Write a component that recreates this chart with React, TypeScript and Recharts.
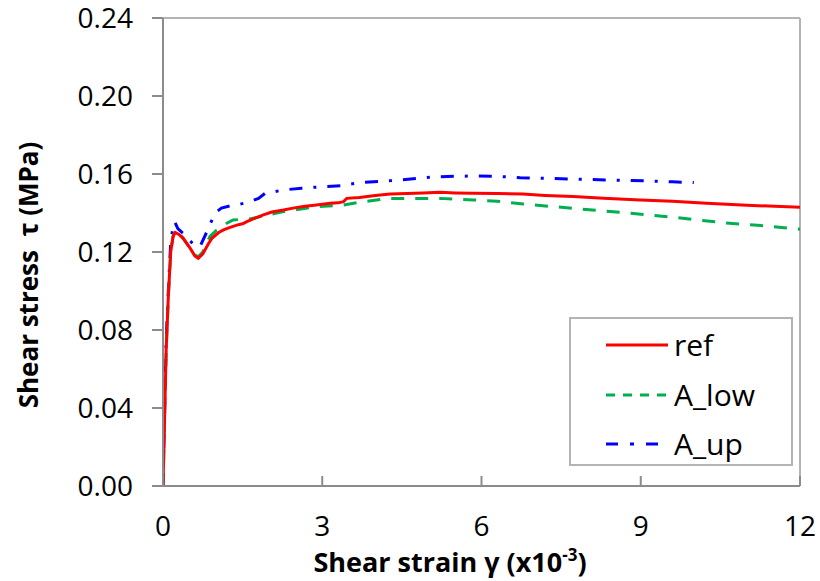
import React from 'react';
import { LineChart, Line, XAxis, YAxis, ReferenceLine, Legend } from 'recharts';

// ---- data ----
const refStrain = [0, 0.03, 0.06, 0.1, 0.145, 0.19, 0.23, 0.3, 0.38, 0.51, 0.6, 0.665, 0.75, 0.85, 0.92, 1.05, 1.14, 1.25, 1.39, 1.5, 1.58, 1.7, 1.89, 2.05, 2.27, 2.45, 2.64, 2.85, 3.0, 3.15, 3.3, 3.4, 3.46, 3.7, 4.0, 4.28, 4.6, 4.9, 5.22, 5.5, 5.84, 6.3, 6.78, 7.2, 7.73, 8.3, 8.99, 9.6, 10.24, 11.0, 12.0];
const refStress = [0, 0.035, 0.07, 0.097, 0.12, 0.128, 0.13, 0.129, 0.127, 0.122, 0.118, 0.1168, 0.119, 0.124, 0.127, 0.13, 0.1313, 0.1325, 0.1338, 0.1345, 0.1356, 0.137, 0.139, 0.1405, 0.1415, 0.1425, 0.1433, 0.144, 0.1445, 0.145, 0.1452, 0.1458, 0.1475, 0.148, 0.149, 0.1497, 0.15, 0.1503, 0.1506, 0.1503, 0.1501, 0.15, 0.1497, 0.149, 0.1484, 0.1476, 0.1467, 0.146, 0.145, 0.144, 0.1429];

const lowStrain = [0, 0.03, 0.06, 0.1, 0.145, 0.19, 0.23, 0.3, 0.38, 0.51, 0.6, 0.665, 0.75, 0.885, 1.0, 1.15, 1.32, 1.5, 1.64, 1.9, 2.27, 2.6, 2.9, 3.4, 3.77, 4.28, 4.8, 5.22, 5.85, 6.3, 6.79, 7.73, 8.67, 9.61, 10.56, 11.2, 11.81, 12.0];
const lowStress = [0, 0.035, 0.07, 0.097, 0.12, 0.128, 0.131, 0.13, 0.127, 0.122, 0.1185, 0.1175, 0.12, 0.128, 0.131, 0.134, 0.1364, 0.1368, 0.137, 0.1385, 0.1407, 0.142, 0.1433, 0.1441, 0.1458, 0.1475, 0.1475, 0.1475, 0.1467, 0.146, 0.1446, 0.1424, 0.1402, 0.1378, 0.135, 0.1337, 0.1321, 0.1317];

const upStrain = [0, 0.03, 0.06, 0.1, 0.145, 0.19, 0.22, 0.28, 0.38, 0.5, 0.62, 0.7, 0.82, 0.98, 1.1, 1.26, 1.45, 1.64, 1.8, 1.92, 2.26, 2.61, 3.01, 3.37, 3.71, 4.1, 4.47, 4.8, 5.16, 5.5, 5.91, 6.3, 6.73, 7.2, 7.67, 8.42, 9.17, 9.6, 10.0];
const upStress = [0, 0.04, 0.075, 0.1, 0.125, 0.133, 0.1355, 0.132, 0.1295, 0.126, 0.1227, 0.123, 0.13, 0.14, 0.1425, 0.1436, 0.1445, 0.1458, 0.1475, 0.15, 0.1518, 0.1527, 0.1535, 0.154, 0.1556, 0.1562, 0.1569, 0.1578, 0.1586, 0.1588, 0.159, 0.1588, 0.1581, 0.1578, 0.1574, 0.1569, 0.1564, 0.156, 0.1556];

const xTicks = [0, 3, 6, 9, 12];
const yTicks = [0, 0.04, 0.08, 0.12, 0.16, 0.2, 0.24];

const seriesNames = ['ref', 'A_low', 'A_up'];

const toPoints = (xs: number[], ys: number[]) => xs.map((x, i) => ({ x, y: ys[i] }));
const refData = toPoints(refStrain, refStress);
const lowData = toPoints(lowStrain, lowStress);
const upData = toPoints(upStrain, upStress);

const FONT = '"Open Sans", "Liberation Sans", sans-serif';
const RED = '#ff0000';
const GREEN = '#00b050';
const BLUE = '#0000ff';
const AXIS = '#8c8c8c';
const FRAME = '#b4b4b4';

const LegendBox = () => {
  const rows = [
    { name: seriesNames[0], color: RED, dash: undefined as string | undefined, len: 62 },
    { name: seriesNames[1], color: GREEN, dash: '9 8', len: 62 },
    { name: seriesNames[2], color: BLUE, dash: '12 12 4 12', len: 54 },
  ];
  return (
    <div
      style={{
        position: 'relative',
        width: 224,
        height: 149,
        boxSizing: 'border-box',
        border: `2px solid ${FRAME}`,
        background: '#fff',
        fontFamily: FONT,
      }}
    >
      {rows.map((r, i) => (
        <div key={r.name} style={{ position: 'absolute', left: 33, top: 6 + i * 49.5, height: 40, display: 'flex', alignItems: 'center' }}>
          <svg width={66} height={10} style={{ display: 'block' }}>
            <line x1={2} y1={5} x2={2 + r.len} y2={5} stroke={r.color} strokeWidth={3} strokeDasharray={r.dash} />
          </svg>
          <span style={{ fontSize: 30, lineHeight: '40px', color: '#000', marginLeft: 4 }}>{r.name}</span>
        </div>
      ))}
    </div>
  );
};

const XTitle = () => (
  <text x={450} y={572} textAnchor="middle" fontFamily={FONT} fontWeight={700} fontSize={27} fill="#000">
    Shear strain γ (x10
    <tspan fontSize={17} dy={-11}>-3</tspan>
    <tspan dy={11}>)</tspan>
  </text>
);

const YTitle = () => (
  <text
    x={38}
    y={275}
    transform="rotate(-90 38 275)"
    textAnchor="middle"
    fontFamily={FONT}
    fontWeight={700}
    fontSize={26}
    fill="#000"
    style={{ whiteSpace: 'pre' }}
  >
    {'Shear stress  τ (MPa)'}
  </text>
);

export default function App() {
  return (
    <div style={{ position: 'absolute', left: 0, top: 0, width: 820, height: 581, background: '#fff' }}>
      <LineChart width={820} height={581} margin={{ top: 18, right: 20, bottom: 0, left: 0 }}>
        <XAxis
          type="number"
          dataKey="x"
          domain={[0, 12]}
          ticks={xTicks}
          interval={0}
          allowDataOverflow
          height={95}
          stroke={AXIS}
          strokeWidth={2}
          tickSize={-10}
          tickMargin={40}
          tick={{ fontFamily: FONT, fontSize: 28, fill: '#000' }}
          label={<XTitle />}
        />
        <YAxis
          type="number"
          dataKey="y"
          domain={[0, 0.24]}
          ticks={yTicks}
          interval={0}
          allowDataOverflow
          width={163}
          stroke={AXIS}
          strokeWidth={2}
          tickSize={11}
          tickMargin={19}
          tickFormatter={(v: number) => v.toFixed(2)}
          tick={{ fontFamily: FONT, fontSize: 28, fill: '#000' }}
          label={<YTitle />}
        />
        <ReferenceLine y={0.24} stroke={FRAME} strokeWidth={2} />
        <ReferenceLine x={12} stroke={FRAME} strokeWidth={2} />
        <Line data={upData} dataKey="y" name={seriesNames[2]} type="linear" stroke={BLUE} strokeWidth={3} strokeDasharray="13 11 3 11" dot={false} isAnimationActive={false} />
        <Line data={lowData} dataKey="y" name={seriesNames[1]} type="linear" stroke={GREEN} strokeWidth={3} strokeDasharray="13 11" dot={false} isAnimationActive={false} />
        <Line data={refData} dataKey="y" name={seriesNames[0]} type="linear" stroke={RED} strokeWidth={3} dot={false} isAnimationActive={false} />
        <Legend
          layout="horizontal"
          verticalAlign="middle"
          align="center"
          content={<LegendBox />}
          wrapperStyle={{ left: 569, top: 317, width: 224, height: 149 }}
        />
      </LineChart>
    </div>
  );
}
